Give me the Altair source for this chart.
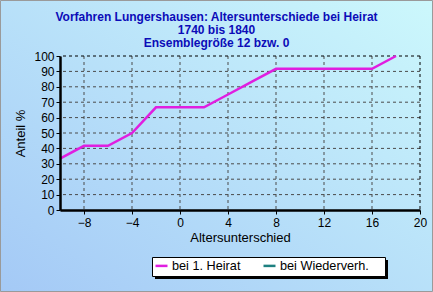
import altair as alt
import pandas as pd

# ---- data ----
x_values = [-10, -8, -6, -4, -2, 0, 2, 4, 6, 8, 10, 12, 14, 16, 18]
share_first = [33.3, 41.7, 41.7, 50.0, 66.7, 66.7, 66.7, 75.0, 83.3, 91.7, 91.7, 91.7, 91.7, 91.7, 100.0]
series_names = ["bei 1. Heirat", "bei Wiederverh."]
series_colors = ["#e01ee0", "#1e8080"]
x_labels = [-8, -4, 0, 4, 8, 12, 16, 20]
y_labels = [0, 10, 20, 30, 40, 50, 60, 70, 80, 90, 100]
x_grid = [-8, -4, 0, 4, 8, 12, 16]
y_grid = [10, 20, 30, 40, 50, 60, 70, 80, 90]
x_domain = [-10, 20]
y_domain = [0, 100]
title_lines = [
    "Vorfahren Lungershausen: Altersunterschiede bei Heirat",
    "1740 bis 1840",
    "Ensemblegröße 12 bzw. 0",
]

FONT = "Liberation Sans"
W, H = 360, 154
PAD = {"left": 60, "top": 56, "right": 13, "bottom": 82}

df = pd.DataFrame({"x": x_values, "y": share_first, "serie": series_names[0]})

xs = alt.Scale(domain=x_domain, nice=False, zero=False)
ys = alt.Scale(domain=y_domain, nice=False, zero=False)

axis_common = dict(
    labelFont=FONT, labelFontSize=12, labelColor="black",
    titleFont=FONT, titleFontSize=13, titleFontWeight="normal", titleColor="black",
    domainColor="black", domainWidth=2.5, tickColor="black", tickSize=4,
    grid=False, zindex=1, labelFlush=False, labelOverlap=False,
)
x_axis = alt.Axis(values=x_labels, title="Altersunterschied",
                  labelPadding=3, titlePadding=3, **axis_common)
y_axis = alt.Axis(values=y_labels, title="Anteil %",
                  labelPadding=2, titlePadding=6, **axis_common)

X = lambda: alt.X("x:Q", scale=xs, axis=x_axis)
Y = lambda: alt.Y("y:Q", scale=ys, axis=y_axis)

one = pd.DataFrame({"a": [0]})

# background gradient covering the whole picture
bg = alt.Chart(one).mark_rect(
    fill=alt.Gradient(
        gradient="linear",
        stops=[alt.GradientStop(color="#a4c9f6", offset=0),
               alt.GradientStop(color="#ccf8fc", offset=1)],
        x1=0, y1=1, x2=1, y2=0,
    ),
    stroke="#9a9a9a", strokeWidth=1,
).encode(
    x=alt.value(-PAD["left"] + 0.5), x2=alt.value(W + PAD["right"] - 0.5),
    y=alt.value(-PAD["top"] + 0.5), y2=alt.value(H + PAD["bottom"] - 0.5),
)

# legend shadow and legend box
shadow = alt.Chart(one).mark_rect(color="black").encode(
    x=alt.value(95), x2=alt.value(328), y=alt.value(204), y2=alt.value(223)
)
legend_box = alt.Chart(one).mark_rect(fill="white", stroke="black", strokeWidth=1).encode(
    x=alt.value(92.5), x2=alt.value(325.5), y=alt.value(201.5), y2=alt.value(220.5)
)

gridx = alt.Chart(pd.DataFrame({"x": x_grid})).mark_rule(
    color="#4a4a4a", strokeDash=[3, 3], strokeWidth=1
).encode(x=X())

gridy = alt.Chart(pd.DataFrame({"y": y_grid})).mark_rule(
    color="#4a4a4a", strokeDash=[3, 3], strokeWidth=1
).encode(y=Y())

borderx = alt.Chart(pd.DataFrame({"x": [x_domain[1]]})).mark_rule(
    color="black", strokeDash=[3, 3], strokeWidth=1
).encode(x=X())

bordery = alt.Chart(pd.DataFrame({"y": [y_domain[1]]})).mark_rule(
    color="black", strokeDash=[3, 3], strokeWidth=1
).encode(y=Y())

line = alt.Chart(df).mark_line(strokeWidth=2.5, clip=False).encode(
    x=X(),
    y=Y(),
    color=alt.Color("serie:N",
                    scale=alt.Scale(domain=series_names, range=series_colors),
                    legend=alt.Legend(
                        title=None, orient="none", legendX=94, legendY=202,
                        direction="horizontal", columns=2,
                        padding=0, columnPadding=17,
                        symbolType="stroke", symbolSize=144, symbolStrokeWidth=2.5,
                        labelFont=FONT, labelFontSize=12.7, labelColor="black", labelOffset=3,
                        zindex=2,
                    )),
)

chart = alt.layer(bg, shadow, legend_box, gridx, gridy, borderx, bordery, line).properties(
    width=W, height=H,
    autosize=alt.AutoSizeParams(type="none"),
    padding=PAD,
    background="#b8e0fa",
    title=alt.TitleParams(
        text=title_lines, font=FONT, fontSize=12, fontWeight="bold",
        color="#0c0cb8", lineHeight=13, anchor="middle", offset=0, dy=50, dx=-23.5,
        zindex=2,
    ),
).configure_view(stroke=None)

chart.save("out.html", embed_options={"renderer": "svg", "actions": False})
